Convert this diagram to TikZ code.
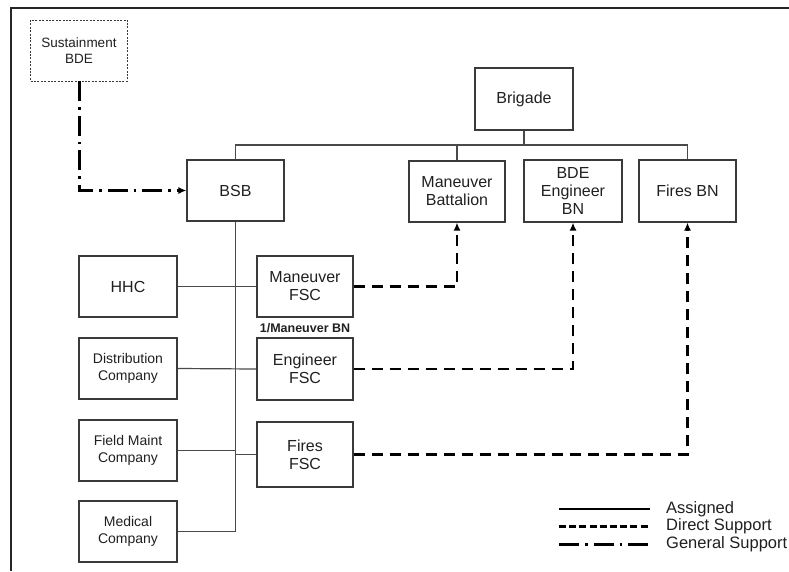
\documentclass[tikz,border=0pt]{standalone}
\usepackage{fontspec}
\setmainfont{Liberation Sans}
\usetikzlibrary{arrows.meta}
\definecolor{boxline}{HTML}{3A3A3A}
\definecolor{assignline}{HTML}{4A4A4A}
\definecolor{ink}{HTML}{202020}
\begin{document}
\begin{tikzpicture}[x=1pt,y=-1pt,
  unit/.style={draw=boxline, line width=1.1pt, fill=white, inner sep=0pt,
    align=center, text=ink, minimum width=97pt, minimum height=61pt,
    font=\fontsize{16}{18}\selectfont},
  smallunit/.style={unit, font=\fontsize{14}{16.5}\selectfont},
  supportunit/.style={unit, dash pattern=on 2pt off 1.4pt, line width=0.8pt,
    font=\fontsize{13.5}{16}\selectfont},
  assigned/.style={draw=assignline, line width=1.2pt},
  direct/.style={draw=black, line width=2.6pt, dash pattern=on 11pt off 7pt},
  general/.style={draw=black, line width=3pt,
    dash pattern=on 20pt off 6pt on 2.5pt off 6pt},
  tip/.style={-{Latex[length=8pt,width=7pt]}},
  legendtext/.style={anchor=west, inner sep=0pt, text=ink,
    font=\fontsize{16.5}{18}\selectfont},
]
\useasboundingbox (0,0) rectangle (789,571);

% page frame (top and left edges)
\coordinate (frameBL) at (11,571);
\coordinate (frameTL) at (11,8);
\coordinate (frameTR) at (789,8);
\draw[line width=2pt, black!85] (frameBL) -- (frameTL) -- (frameTR);

% units
\node[supportunit] (sus) at (79,50.5) {Sustainment\\BDE};
\node[unit, minimum height=62pt, minimum width=98pt] (brigade) at (524,99) {Brigade};
\node[unit] (bsb) at (235.5,190.5) {BSB};
\node[unit, minimum width=96pt] (manbn) at (457,191.5) {Maneuver\\Battalion};
\node[unit, minimum width=98pt, minimum height=62pt] (engbn) at (573,191) {BDE\\Engineer\\BN};
\node[unit, minimum height=62pt] (firesbn) at (687.5,191) {Fires BN};

\node[unit, minimum width=98pt] (hhc) at (128,286.5) {HHC};
\node[smallunit, minimum width=98pt] (dist) at (128,368.5) {Distribution\\Company};
\node[smallunit, minimum width=98pt] (fm) at (128,450.5) {Field Maint\\Company};
\node[smallunit, minimum width=98pt] (med) at (128,531.5) {Medical\\Company};

\node[unit, minimum width=96pt] (manfsc) at (305,286.5) {Maneuver\\FSC};
\node[unit, minimum width=96pt, minimum height=62pt] (engfsc) at (305,369) {Engineer\\FSC};
\node[unit, minimum width=96pt, minimum height=65pt] (firesfsc) at (305,454.5) {Fires\\FSC};

\node[inner sep=0pt, text=ink, font=\bfseries\fontsize{12.5}{14}\selectfont]
  (fsclabel) at (305,328.5) {1/Maneuver BN};

% brigade tree
\coordinate (bar) at (524,145);
\draw[assigned] (brigade.south) -- (bar);
\draw[assigned] (bsb.north) -- (bsb.north |- bar) -- (firesbn.north |- bar) -- (firesbn.north);
\draw[assigned] (manbn.north) -- (manbn.north |- bar);

% BSB tree
\draw[assigned] (bsb.south) -- (bsb.south |- med.east);
\draw[assigned] (hhc.east) -- (manfsc.west);
\draw[assigned] (dist.east) -- (engfsc.west);
\draw[assigned] (fm.east) -- (fm.east -| bsb.south);
\draw[assigned] (firesfsc.west) -- (firesfsc.west -| bsb.south);
\draw[assigned] (med.east) -- (med.east -| bsb.south);

% direct support
\draw[direct, tip] (manfsc.east) -| (manbn.south);
\draw[direct, tip] (engfsc.east) -| (engbn.south);
\draw[direct, tip] (firesfsc.east) -| (firesbn.south);

% general support
\draw[general, tip] (sus.south) |- (bsb.west);

% legend
\coordinate (la1) at (559,509); \coordinate (la2) at (650,509);
\coordinate (lb1) at (559,526.5); \coordinate (lb2) at (650,526.5);
\coordinate (lc1) at (559,544); \coordinate (lc2) at (650,544);
\draw[draw=black, line width=1.2pt] (la1) -- (la2);
\draw[draw=black, line width=2.6pt, dash pattern=on 7pt off 3.2pt] (lb1) -- (lb2);
\draw[general] (lc1) -- (lc2);
\node[legendtext] (lta) at (666,509) {Assigned};
\node[legendtext] (ltb) at (666,526.5) {Direct Support};
\node[legendtext] (ltc) at (666,544) {General Support};
\end{tikzpicture}
\end{document}
